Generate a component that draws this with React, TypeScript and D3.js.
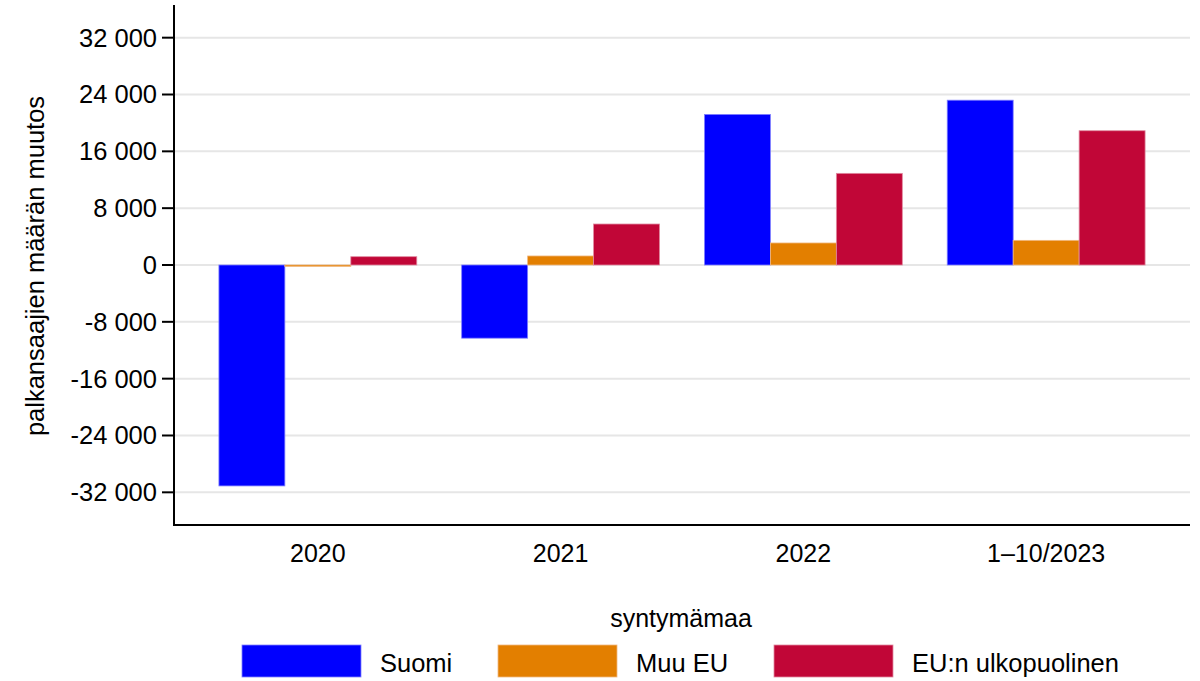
import React from "react";
import * as d3 from "d3";

const years = ["2020", "2021", "2022", "1–10/2023"];
const seriesNames = ["Suomi", "Muu EU", "EU:n ulkopuolinen"];
const suomi = [-31100, -10300, 21200, 23200];
const muuEU = [-200, 1270, 3100, 3470];
const euUlko = [1170, 5770, 12900, 18900];
const yTicks = [-32000, -24000, -16000, -8000, 0, 8000, 16000, 24000, 32000];
const colors = ["#0000ff", "#e37f00", "#c10637"];
const strokes = ["#8080ff", "#f0b880", "#e08aa0"];

const W = 1200;
const H = 681;
const left = 174;
const right = 1190;
const top = 5;
const bottom = 525;
const font = "'Liberation Sans', Arial, sans-serif";

export default function App() {
  const values = [suomi, muuEU, euUlko];

  const x = d3.scaleBand<string>().domain(years).range([left, right]).padding(0.185);
  const xs = d3.scaleBand<string>().domain(seriesNames).range([0, x.bandwidth()]);
  const y = d3.scaleLinear().domain([-36600, 36600]).range([bottom, top]);

  const fmt = (v: number) => {
    const s = d3.format(",")(Math.abs(v)).replace(/,/g, " ");
    return (v < 0 ? "-" : "") + s;
  };

  // legend layout
  const legendX = [242, 498, 774];
  const legendY = 645;

  return (
    <svg width={W} height={H} style={{ position: "absolute", left: 0, top: 0, background: "#fff" }}
      fontFamily={font}>
      {/* gridlines */}
      {yTicks.map((t) => (
        <line key={"g" + t} x1={left} x2={right} y1={y(t)} y2={y(t)} stroke="#e6e6e6" strokeWidth={2} />
      ))}

      {/* bars */}
      {years.map((yr, i) => (
        <g key={yr} transform={`translate(${x(yr)},0)`}>
          {seriesNames.map((s, j) => {
            const v = values[j][i];
            return (
              <rect key={s} x={xs(s)} width={xs.bandwidth()}
                y={y(Math.max(0, v))} height={Math.abs(y(v) - y(0))}
                fill={colors[j]} stroke={strokes[j]} strokeWidth={0.8} />
            );
          })}
        </g>
      ))}

      {/* y axis */}
      <line x1={left} x2={left} y1={top} y2={bottom} stroke="#000" strokeWidth={2} />
      {yTicks.map((t) => (
        <g key={"t" + t}>
          <line x1={left - 12} x2={left} y1={y(t)} y2={y(t)} stroke="#000" strokeWidth={2} />
          <text x={left - 17} y={y(t)} dy="0.35em" textAnchor="end" fontSize={25.5} fill="#000">
            {fmt(t)}
          </text>
        </g>
      ))}
      <text transform={`translate(44,${(top + bottom) / 2 + 1}) rotate(-90)`} textAnchor="middle"
        fontSize={25.5} fill="#000">
        palkansaajien määrän muutos
      </text>

      {/* x axis */}
      <line x1={left - 1} x2={right} y1={bottom} y2={bottom} stroke="#000" strokeWidth={2} />
      {years.map((yr) => (
        <text key={"x" + yr} x={(x(yr) as number) + x.bandwidth() / 2} y={562} textAnchor="middle"
          fontSize={25} fill="#000">
          {yr}
        </text>
      ))}

      {/* legend */}
      <text x={681} y={627} textAnchor="middle" fontSize={25} fill="#000">syntymämaa</text>
      {seriesNames.map((s, j) => (
        <g key={"l" + s} transform={`translate(${legendX[j]},${legendY})`}>
          <rect width={119} height={32} fill={colors[j]} stroke={strokes[j]} strokeWidth={0.8} />
          <text x={138} y={27} fontSize={25.5} fill="#000">{s}</text>
        </g>
      ))}
    </svg>
  );
}
